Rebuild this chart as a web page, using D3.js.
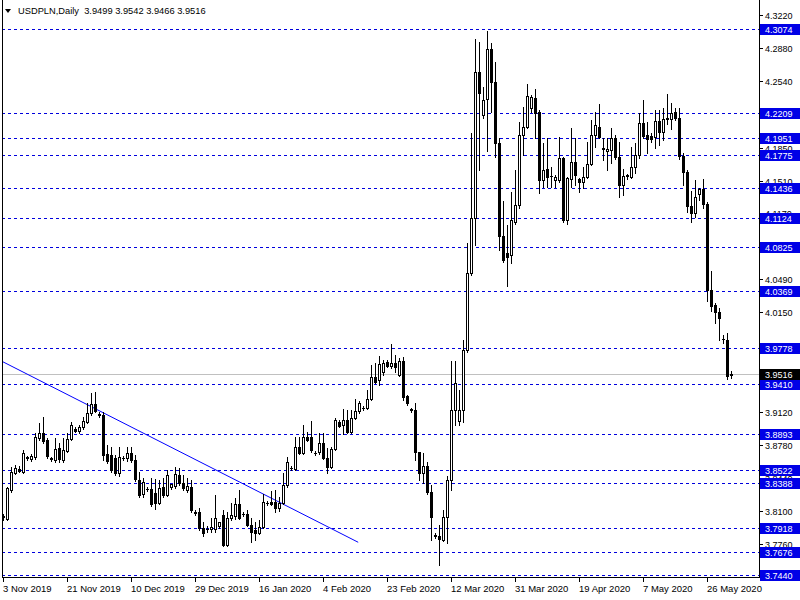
<!DOCTYPE html>
<html><head><meta charset="utf-8">
<script src="https://cdn.jsdelivr.net/npm/d3@7"></script>
<style>
body{margin:0;background:#fff}
svg{display:block}
text{font-family:"Liberation Sans",Arial,sans-serif}
</style>
</head><body>
<svg id="c" width="800" height="600"></svg>
<script>
const symbolName = "USDPLN,Daily";
const dateTickBars = [0,16,32,48,64,80,96,112,128,144,160,176];
const dateTickLabels = ["3 Nov 2019","21 Nov 2019","10 Dec 2019","29 Dec 2019","16 Jan 2020","4 Feb 2020","23 Feb 2020","12 Mar 2020","31 Mar 2020","19 Apr 2020","7 May 2020","26 May 2020"];
const priceTicks = [4.3220,4.2880,4.2540,4.2200,4.1850,4.1510,4.1170,4.0830,4.0490,4.0150,3.9810,3.9470,3.9120,3.8780,3.8440,3.8100,3.7760,3.7420];
const levelLines = [4.3074,4.2209,4.1951,4.1775,4.1436,4.1124,4.0825,4.0369,3.9778,3.9410,3.8893,3.8522,3.8388,3.7918,3.7676,3.7440];
const currentPrice = 3.9516;
const trendStart = [-0.25, 3.9642];
const trendEnd = [88.8, 3.7773];

const opens = [
3.8033,3.8013,3.8312,3.8488,3.8530,3.8499,3.8643,3.8633,3.8654,3.8850,
3.8902,3.8830,3.8633,3.8623,3.8747,3.8623,3.8716,3.8840,3.8943,3.8923,
3.8964,3.9015,3.9108,3.9202,3.9098,3.9088,3.8685,3.8675,3.8643,3.8488,
3.8643,3.8643,3.8695,3.8623,3.8416,3.8271,3.8323,3.8323,3.8281,3.8178,
3.8344,3.8261,3.8344,3.8354,3.8468,3.8385,3.8312,3.8344,3.8085,3.8085,
3.7920,3.7909,3.7909,3.7909,3.7940,3.8054,3.7744,3.8023,3.8044,3.8168,
3.8064,3.8064,3.7951,3.7899,3.7868,3.7930,3.8178,3.8188,3.8188,3.8126,
3.8178,3.8364,3.8540,3.8530,3.8757,3.8695,3.8861,3.8861,3.8695,3.8706,
3.8799,3.8643,3.8551,3.8737,3.9015,3.8984,3.9036,3.8912,3.9057,3.9129,
3.9160,3.9160,3.9253,3.9480,3.9449,3.9532,3.9635,3.9594,3.9625,3.9501,
3.9646,3.9284,3.9140,3.9140,3.8706,3.8488,3.8561,3.8292,3.7837,3.7837,
3.7796,3.8033,3.8416,3.9140,3.9026,3.9140,3.9759,4.0555,4.1123,4.2631,
4.2187,4.2352,4.2869,4.2528,4.1898,4.0937,4.0761,4.0741,4.1082,4.1257,
4.1980,4.2063,4.2259,4.2363,4.2218,4.1515,4.1629,4.1557,4.1515,4.1515,
4.1743,4.1102,4.1526,4.1701,4.1526,4.1495,4.1546,4.1681,4.1980,4.2063,
4.1846,4.1815,4.1825,4.1949,4.1753,4.1464,4.1557,4.1546,4.1650,4.1774,
4.2104,4.1980,4.1970,4.1960,4.2125,4.2011,4.2146,4.2146,4.2218,4.2156,
4.1763,4.1598,4.1247,4.1174,4.1371,4.1422,4.1267,4.0379,4.0224,4.0152,
3.9873,3.9862,3.9499];
const highs = [
3.8064,3.8344,3.8551,3.8572,3.8561,3.8726,3.8664,3.8685,3.8902,3.9005,
3.9067,3.8850,3.8654,3.8850,3.8799,3.8850,3.8902,3.9015,3.8964,3.8984,
3.9067,3.9212,3.9315,3.9325,3.9119,3.9119,3.8778,3.8757,3.8675,3.8757,
3.8664,3.8757,3.8757,3.8675,3.8499,3.8437,3.8344,3.8437,3.8426,3.8416,
3.8437,3.8519,3.8380,3.8551,3.8540,3.8468,3.8437,3.8416,3.8106,3.8126,
3.7982,3.7940,3.8023,3.8261,3.7985,3.8106,3.8085,3.8178,3.8230,3.8312,
3.8085,3.8106,3.8023,3.7982,3.8002,3.8271,3.8199,3.8302,3.8312,3.8240,
3.8488,3.8654,3.8561,3.8861,3.8861,3.8984,3.8912,3.9026,3.8716,3.8902,
3.8902,3.8747,3.8757,3.9057,3.9036,3.9150,3.9140,3.9140,3.9253,3.9233,
3.9181,3.9346,3.9604,3.9625,3.9697,3.9656,3.9656,3.9821,3.9708,3.9677,
3.9687,3.9294,3.9160,3.9212,3.8710,3.8695,3.8602,3.8364,3.7868,3.7951,
3.8106,3.8457,3.9646,3.9646,3.9346,3.9862,4.0865,4.1999,4.2972,4.2941,
4.2476,4.3055,4.2931,4.2734,4.1949,4.1298,4.1051,4.1391,4.1619,4.2115,
4.2270,4.2507,4.2394,4.2456,4.2239,4.1898,4.1949,4.1650,4.1567,4.1960,
4.1753,4.1546,4.2053,4.1949,4.1536,4.1650,4.1908,4.2135,4.2218,4.2301,
4.1949,4.1949,4.2053,4.1980,4.1908,4.1629,4.1578,4.1856,4.1898,4.2208,
4.2342,4.2115,4.1999,4.2239,4.2239,4.2259,4.2404,4.2311,4.2259,4.2259,
4.1794,4.1619,4.1402,4.1515,4.1433,4.1526,4.1288,4.0575,4.0245,4.0193,
3.9914,3.9935,3.9542];
const lows = [
3.8002,3.8002,3.8292,3.8478,3.8499,3.8488,3.8623,3.8612,3.8633,3.8830,
3.8799,3.8643,3.8612,3.8602,3.8602,3.8602,3.8706,3.8830,3.8912,3.8902,
3.8943,3.9005,3.9088,3.9119,3.9067,3.8623,3.8592,3.8499,3.8468,3.8457,
3.8623,3.8612,3.8602,3.8406,3.8240,3.8240,3.8302,3.8147,3.8116,3.8168,
3.8240,3.8251,3.8323,3.8333,3.8364,3.8312,3.8292,3.8085,3.8054,3.7899,
3.7837,3.7878,3.7878,3.7878,3.7920,3.7734,3.7734,3.8002,3.8013,3.8013,
3.8044,3.7940,3.7775,3.7796,3.7858,3.7920,3.8157,3.8157,3.8085,3.8095,
3.8168,3.8344,3.8519,3.8519,3.8685,3.8685,3.8819,3.8706,3.8675,3.8685,
3.8633,3.8488,3.8540,3.8726,3.8964,3.8892,3.8902,3.8902,3.9046,3.9108,
3.9140,3.9150,3.9243,3.9418,3.9398,3.9501,3.9584,3.9573,3.9532,3.9491,
3.9243,3.9191,3.9119,3.8623,3.8416,3.8385,3.8271,3.7796,3.7816,3.7538,
3.7785,3.7765,3.8312,3.8984,3.8984,3.9015,3.9738,4.0534,4.0844,4.1619,
4.2156,4.1815,4.2218,4.1753,4.0792,4.0668,4.0420,4.0658,4.1061,4.1226,
4.1774,4.2053,4.2218,4.1949,4.1381,4.1443,4.1443,4.1443,4.1443,4.1495,
4.1082,4.1061,4.1443,4.1464,4.1391,4.1433,4.1536,4.1670,4.1856,4.1945,
4.1722,4.1619,4.1691,4.1732,4.1340,4.1360,4.1526,4.1536,4.1588,4.1743,
4.1949,4.1794,4.1908,4.1846,4.1877,4.1929,4.2094,4.2042,4.2135,4.1732,
4.1464,4.1185,4.1082,4.1133,4.1309,4.1226,4.0265,4.0162,4.0038,3.9862,
3.9831,3.9460,3.9466];
const closes = [
3.8044,3.8333,3.8499,3.8540,3.8509,3.8695,3.8650,3.8664,3.8861,3.8902,
3.8819,3.8664,3.8640,3.8737,3.8633,3.8726,3.8840,3.8984,3.8923,3.8964,
3.9026,3.9108,3.9202,3.9129,3.9088,3.8675,3.8612,3.8519,3.8488,3.8654,
3.8648,3.8695,3.8623,3.8426,3.8261,3.8395,3.8328,3.8168,3.8178,3.8333,
3.8261,3.8468,3.8370,3.8478,3.8385,3.8333,3.8354,3.8106,3.8075,3.7920,
3.7868,3.7912,3.7930,3.8023,3.7978,3.7744,3.8023,3.8054,3.8168,3.8023,
3.8068,3.7951,3.7878,3.7868,3.7930,3.8188,3.8182,3.8168,3.8126,3.8178,
3.8364,3.8602,3.8545,3.8757,3.8695,3.8861,3.8830,3.8726,3.8700,3.8799,
3.8643,3.8551,3.8737,3.9036,3.8974,3.9036,3.8912,3.9057,3.9129,3.9212,
3.9165,3.9253,3.9480,3.9429,3.9615,3.9625,3.9594,3.9625,3.9584,3.9646,
3.9274,3.9212,3.9145,3.8706,3.8488,3.8561,3.8292,3.8033,3.7847,3.7806,
3.8033,3.8416,3.9140,3.9418,3.9140,3.9759,4.0555,4.1123,4.2631,4.2414,
4.2342,4.2869,4.2528,4.1898,4.0937,4.0689,4.0720,4.1102,4.1257,4.1980,
4.2063,4.2383,4.2373,4.2208,4.1515,4.1619,4.1546,4.1560,4.1546,4.1743,
4.1102,4.1536,4.1701,4.1567,4.1495,4.1546,4.1681,4.1980,4.2084,4.1955,
4.1836,4.1836,4.1949,4.1753,4.1464,4.1557,4.1562,4.1650,4.1774,4.2104,
4.1970,4.1939,4.1939,4.2125,4.2011,4.2146,4.2156,4.2208,4.2156,4.1763,
4.1598,4.1247,4.1174,4.1340,4.1422,4.1267,4.0379,4.0214,4.0152,4.0090,
3.9868,3.9491,3.9516];

const svg = d3.select("#c");
const W = 800, H = 600;
const plotL = 2, plotR = 759, plotB = 577;
const x = d3.scaleLinear().domain([0, opens.length - 1]).range([3, 3 + 4 * (opens.length - 1)]);
const y = d3.scaleLinear().domain([3.7440, 4.3220]).range([574.5, 15]);
const Y = v => Math.round(y(v));
const fmt = d3.format(".4f");

svg.append("rect").attr("width", W).attr("height", H).attr("fill", "#fff");
svg.append("defs").append("clipPath").attr("id", "plot")
  .append("rect").attr("x", plotL + 1).attr("y", 0).attr("width", plotR - plotL - 1).attr("height", plotB);

const g = svg.append("g").attr("clip-path", "url(#plot)");

// horizontal level lines
g.selectAll("line.lvl").data(levelLines).join("line")
  .attr("class", "lvl")
  .attr("x1", plotL).attr("x2", plotR)
  .attr("y1", d => Y(d) + 0.5).attr("y2", d => Y(d) + 0.5)
  .attr("stroke", "#0000dd").attr("stroke-width", 1).attr("stroke-dasharray", "3,3");

// current price line
g.append("line").attr("x1", plotL).attr("x2", plotR)
  .attr("y1", Y(currentPrice) + 0.5).attr("y2", Y(currentPrice) + 0.5)
  .attr("stroke", "#c0c0c0").attr("stroke-width", 1);

// trend line
g.append("line")
  .attr("x1", x(trendStart[0])).attr("y1", y(trendStart[1]))
  .attr("x2", x(trendEnd[0])).attr("y2", y(trendEnd[1]))
  .attr("stroke", "#0000ff").attr("stroke-width", 1);

// candles
const idx = d3.range(opens.length);
const cg = g.append("g");
idx.forEach(i => {
  const cx = Math.round(x(i));
  const o = opens[i], h = highs[i], l = lows[i], c = closes[i];
  const yh = Y(h), yl = Y(l);
  cg.append("rect").attr("x", cx).attr("y", yh).attr("width", 1)
    .attr("height", Math.max(1, yl - yh + 1)).attr("fill", "#000");
  const top = Y(Math.max(o, c)), bot = Y(Math.min(o, c));
  const hh = bot - top;
  cg.append("rect").attr("x", cx - 1).attr("y", top).attr("width", 3)
    .attr("height", hh + 1).attr("fill", "#000");
  if (c > o && hh >= 2) {
    cg.append("rect").attr("x", cx).attr("y", top + 1).attr("width", 1)
      .attr("height", hh - 1).attr("fill", "#fff");
  }
});

// frame
svg.append("line").attr("x1", plotL + 0.5).attr("x2", plotL + 0.5).attr("y1", 0).attr("y2", plotB + 1).attr("stroke", "#000");
svg.append("line").attr("x1", plotR + 0.5).attr("x2", plotR + 0.5).attr("y1", 0).attr("y2", plotB + 1).attr("stroke", "#000");
svg.append("line").attr("x1", plotL).attr("x2", plotR + 1).attr("y1", plotB + 0.5).attr("y2", plotB + 0.5).attr("stroke", "#000");

// x axis ticks and labels
svg.selectAll("line.xt").data(dateTickBars).join("line").attr("class", "xt")
  .attr("x1", d => Math.round(x(d)) + 0.5).attr("x2", d => Math.round(x(d)) + 0.5)
  .attr("y1", plotB).attr("y2", plotB + 5).attr("stroke", "#000");
svg.selectAll("text.xl").data(dateTickBars).join("text").attr("class", "xl")
  .attr("x", d => Math.round(x(d)))
  .attr("y", 592)
  .attr("font-size", "9.5px").attr("fill", "#000")
  .text((d, k) => dateTickLabels[k]);

// y axis ticks and labels (labels hidden when a level/price box covers them, as in the terminal)
const boxCenters = levelLines.concat([currentPrice]).map(v => y(v));
const hiddenTick = v => {
  const ty = y(v);
  const ds = boxCenters.map(b => b - ty);
  if (ds.some(d => Math.abs(d) < 3.5)) return true;
  const above = ds.some(d => d < 0 && d > -6.5), below = ds.some(d => d > 0 && d < 6.5);
  return above && below;
};
svg.selectAll("line.yt").data(priceTicks).join("line").attr("class", "yt")
  .attr("x1", plotR).attr("x2", plotR + 4)
  .attr("y1", d => Y(d) + 0.5).attr("y2", d => Y(d) + 0.5).attr("stroke", "#000");
svg.selectAll("text.yl").data(priceTicks.filter(v => !hiddenTick(v))).join("text").attr("class", "yl")
  .attr("x", 765).attr("y", d => Y(d) + 3.5)
  .attr("font-size", "9px").attr("fill", "#000")
  .text(d => fmt(d));

// level labels
const lab = svg.selectAll("g.lab").data(levelLines).join("g").attr("class", "lab");
lab.append("rect").attr("x", 760).attr("y", d => Y(d) - 5).attr("width", 40).attr("height", 11).attr("fill", "#0000e6");
lab.append("text").attr("x", 765).attr("y", d => Y(d) + 3.5)
  .attr("font-size", "9px").attr("fill", "#fff").text(d => fmt(d));

// current price label
svg.append("rect").attr("x", 760).attr("y", Y(currentPrice) - 5).attr("width", 40).attr("height", 11).attr("fill", "#000");
svg.append("text").attr("x", 765).attr("y", Y(currentPrice) + 3.5)
  .attr("font-size", "9px").attr("fill", "#fff").text(fmt(currentPrice));

// header
const last = opens.length - 1;
svg.append("path").attr("d", "M5,9 L11,9 L8,13 Z").attr("fill", "#000");
svg.append("text").attr("x", 18).attr("y", 14).attr("font-size", "9.3px").attr("fill", "#000")
  .style("white-space", "pre")
  .text(symbolName + "  " + [opens[last], highs[last], lows[last], closes[last]].map(fmt).join(" "));
</script>
</body></html>
